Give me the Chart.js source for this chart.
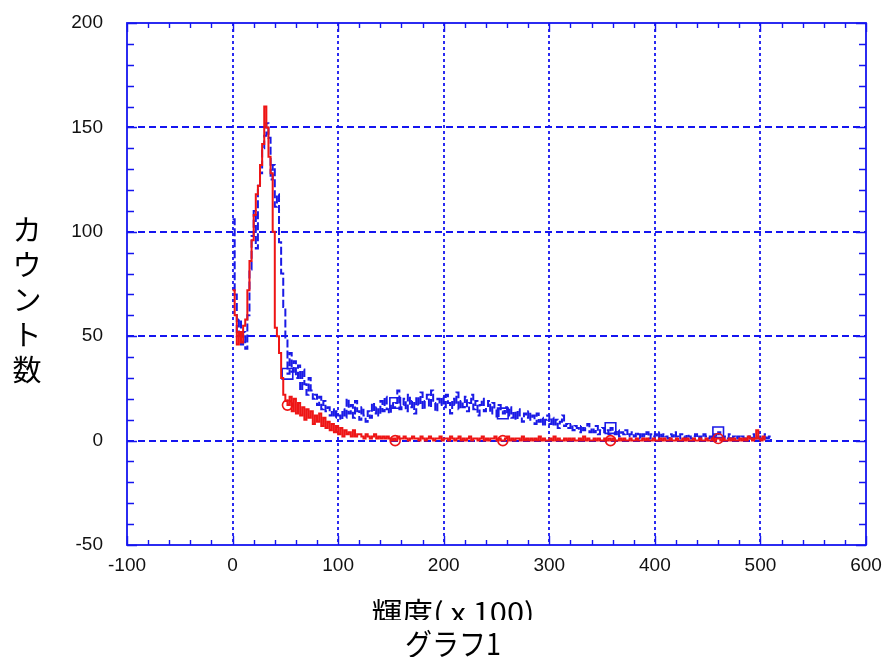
<!DOCTYPE html>
<html>
<head>
<meta charset="utf-8">
<script src="https://cdn.jsdelivr.net/npm/chart.js@4.4.0/dist/chart.umd.min.js"></script>
<style>
  html, body { margin: 0; padding: 0; background: #fff; }
</style>
</head>
<body>
<canvas id="chartCanvas" width="888" height="657"></canvas>
<script>
// histogram bins, 2 units wide, starting at 0
const binStart = 0;
const binWidth = 2;

const blueCounts = [
  106, 70, 50, 58, 46, 52, 44, 60, 82, 98,
  110, 92, 122, 128, 140, 146, 152, 145, 125, 132,
  112, 118, 95, 80, 64, 48, 32, 42, 33, 38,
  30, 36, 24, 34, 27, 22, 30, 24, 20, 22,
  17, 21, 15, 19, 14, 16, 12, 15, 11, 14,
  12, 10, 15, 11, 20, 13, 17, 11, 19, 14,
  10, 16, 12, 9, 14, 11, 18, 13, 16, 12,
  19, 14, 21, 15, 13, 18, 16, 18, 24, 15,
  17, 20, 14, 22, 16, 19, 13, 21, 17, 23,
  15, 19, 22, 16, 24, 18, 14, 20, 17, 21,
  16, 22, 18, 13, 20, 17, 23, 15, 19, 16,
  21, 14, 18, 22, 15, 19, 12, 17, 20, 14,
  16, 19, 13, 18, 15, 11, 17, 14, 13, 16,
  12, 16, 11, 14, 10, 15, 12, 9, 13, 11,
  14, 10, 12, 8, 13, 9, 11, 7, 10, 12,
  8, 11, 7, 10, 6, 9, 12, 7, 8, 6,
  8, 5, 7, 6, 4, 7, 5, 6, 8, 4,
  6, 4, 7, 3, 5, 6, 4, 5, 3, 6,
  4, 3, 5, 2, 4, 3, 5, 2, 3, 4,
  2, 4, 3, 1, 3, 2, 4, 1, 3, 2,
  3, 1, 4, 2, 3, 2, 1, 3, 2, 4,
  2, 1, 3, 2, 1, 3, 2, 1, 2, 3,
  1, 2, 1, 3, 2, 1, 2, 1, 3, 2,
  4, 2, 1, 2, 1, 3, 1, 2, 1, 2,
  1, 2, 1, 1, 2, 1, 3, 1, 2, 1,
  2, 1, 3, 1, 2, 0
];

const redCounts = [
  72, 60, 46, 52, 47, 55, 58, 72, 86, 96,
  108, 118, 122, 132, 142, 160, 150, 136, 128, 100,
  54, 50, 42, 30, 22, 19, 17, 21, 14, 20,
  13, 18, 12, 16, 10, 15, 11, 14, 8, 12,
  9, 13, 7, 11, 6, 9, 5, 8, 4, 7,
  3, 6, 2, 5, 3, 4, 2, 5, 2, 3,
  3, 2, 1, 3, 2, 1, 2, 3, 1, 2,
  1, 2, 1, 2, 1, 0, 1, 0, 2, 1,
  1, 2, 1, 0, 1, 2, 1, 1, 0, 2,
  1, 0, 1, 2, 1, 0, 1, 1, 2, 0,
  1, 1, 0, 2, 1, 0, 1, 2, 0, 1,
  0, 1, 2, 0, 1, 1, 0, 1, 2, 0,
  1, 0, 1, 1, 2, 0, 1, 0, 0, 1,
  2, 0, 1, 0, 1, 1, 0, 2, 0, 1,
  0, 1, 0, 1, 0, 2, 0, 1, 0, 0,
  1, 0, 2, 0, 1, 0, 0, 1, 0, 1,
  0, 1, 0, 0, 1, 0, 2, 0, 1, 0,
  0, 1, 0, 1, 0, 0, 1, 0, 1, 0,
  1, 0, 0, 1, 0, 1, 0, 0, 1, 0,
  0, 1, 0, 0, 1, 0, 1, 0, 0, 1,
  0, 0, 1, 0, 1, 0, 0, 1, 0, 0,
  1, 0, 0, 1, 0, 1, 0, 0, 1, 0,
  0, 1, 0, 0, 1, 0, 0, 1, 0, 1,
  1, 0, 1, 0, 0, 1, 0, 1, 0, 0,
  1, 0, 1, 0, 2, 1, 0, 1, 5, 1,
  0, 2, 0
];

// bins that carry a marker symbol
const markerX = [52, 154, 256, 358, 460];

const xTicks = [-100, 0, 100, 200, 300, 400, 500, 600];
const yTicks = [-50, 0, 50, 100, 150, 200];

const xTitle = "輝度( x 100)";
const yTitle = "カウント数";
const caption = "グラフ1";

const axisBlue = "#1515f0";
const redColor = "#ee1515";
const blueColor = "#1a1ae6";

function toPoints(counts) {
  return counts.map((v, i) => ({ x: binStart + i * binWidth, y: v }));
}

function markerRadius(r) {
  return ctx => (ctx.raw && markerX.includes(ctx.raw.x) ? r : 0);
}

// grid, frame with inward ticks, and titles
const framePlugin = {
  id: "frame",
  beforeDatasetsDraw(chart) {
    const { ctx, chartArea: a, scales: { x, y } } = chart;
    ctx.save();
    ctx.strokeStyle = axisBlue;
    ctx.lineWidth = 1.8;
    ctx.setLineDash([3, 3]);
    xTicks.forEach(v => {
      if (v <= x.min || v >= x.max) return;
      const px = Math.round(x.getPixelForValue(v));
      ctx.beginPath();
      ctx.moveTo(px, a.top);
      ctx.lineTo(px, a.bottom);
      ctx.stroke();
    });
    ctx.setLineDash([7, 4]);
    yTicks.forEach(v => {
      if (v <= y.min || v >= y.max) return;
      const py = Math.round(y.getPixelForValue(v));
      ctx.beginPath();
      ctx.moveTo(a.left, py);
      ctx.lineTo(a.right, py);
      ctx.stroke();
    });
    ctx.restore();
  },
  afterDatasetsDraw(chart) {
    const { ctx, chartArea: a, scales: { x, y } } = chart;
    ctx.save();
    ctx.strokeStyle = axisBlue;
    ctx.lineWidth = 1.8;
    ctx.strokeRect(a.left, a.top, a.right - a.left, a.bottom - a.top);
    ctx.lineWidth = 1.4;
    ctx.beginPath();
    for (let v = x.min; v <= x.max; v += 20) {
      const px = Math.round(x.getPixelForValue(v)) + 0.5;
      const len = v % 100 === 0 ? 9 : 5;
      ctx.moveTo(px, a.bottom);
      ctx.lineTo(px, a.bottom - len);
      ctx.moveTo(px, a.top);
      ctx.lineTo(px, a.top + len);
    }
    for (let v = y.min; v <= y.max; v += 10) {
      const py = Math.round(y.getPixelForValue(v)) + 0.5;
      const len = v % 50 === 0 ? 10 : 7;
      ctx.moveTo(a.left, py);
      ctx.lineTo(a.left + len, py);
      ctx.moveTo(a.right, py);
      ctx.lineTo(a.right - len, py);
    }
    ctx.stroke();
    ctx.restore();
  },
  afterDraw(chart) {
    const { ctx } = chart;
    const midX = 453;
    ctx.save();
    ctx.fillStyle = "#000";
    ctx.textAlign = "center";
    ctx.textBaseline = "middle";
    ctx.font = '29px "Noto Sans CJK JP"';
    const chars = Array.from(yTitle);
    chars.forEach((c, i) => ctx.fillText(c, 27, 230 + i * 35));

    // x title: bottom part hidden behind the caption
    ctx.textBaseline = "alphabetic";
    ctx.save();
    ctx.beginPath();
    ctx.rect(0, 590, 888, 30);
    ctx.clip();
    ctx.font = '28px "Noto Sans CJK JP"';
    let w = ctx.measureText(xTitle).width;
    ctx.translate(midX, 623);
    ctx.scale(163 / w, 1);
    ctx.fillText(xTitle, 0, 0);
    ctx.restore();

    ctx.font = '30px "Noto Sans CJK JP"';
    w = ctx.measureText(caption).width;
    ctx.translate(midX, 655);
    ctx.scale(96 / w, 1);
    ctx.fillText(caption, 0, 0);
    ctx.restore();
  }
};

const tickFont = { family: '"Liberation Sans", Arial, sans-serif', size: 19 };

new Chart(document.getElementById("chartCanvas").getContext("2d"), {
  type: "line",
  data: {
    datasets: [
      {
        label: "red",
        data: toPoints(redCounts),
        stepped: true,
        borderColor: redColor,
        borderWidth: 2,
        fill: false,
        pointStyle: "circle",
        pointRadius: markerRadius(5),
        pointHoverRadius: 0,
        pointBorderColor: redColor,
        pointBackgroundColor: "rgba(0,0,0,0)",
        pointBorderWidth: 1.6
      },
      {
        label: "blue",
        data: toPoints(blueCounts),
        stepped: true,
        borderColor: blueColor,
        borderWidth: 2,
        borderDash: [8, 3],
        fill: false,
        pointStyle: "rect",
        pointRadius: markerRadius(7.5),
        pointHoverRadius: 0,
        pointBorderColor: blueColor,
        pointBackgroundColor: "rgba(0,0,0,0)",
        pointBorderWidth: 1.6
      }
    ]
  },
  options: {
    responsive: false,
    animation: false,
    layout: { padding: { top: 23, right: 22, left: 0, bottom: 0 } },
    plugins: {
      legend: { display: false },
      tooltip: { enabled: false }
    },
    scales: {
      x: {
        type: "linear",
        min: -100,
        max: 600,
        afterBuildTicks: s => { s.ticks = xTicks.map(v => ({ value: v })); },
        afterFit: s => {
          s.height = 112;
          s.paddingLeft = 0;
          s.paddingRight = 0;
        },
        ticks: { font: tickFont, color: "#111", padding: 9, maxRotation: 0, autoSkip: false },
        grid: { display: false, drawTicks: false },
        border: { display: false }
      },
      y: {
        type: "linear",
        min: -50,
        max: 200,
        afterBuildTicks: s => { s.ticks = yTicks.map(v => ({ value: v })); },
        afterFit: s => {
          s.width = 127;
          s.paddingTop = 0;
          s.paddingBottom = 0;
        },
        ticks: { font: tickFont, color: "#111", padding: 24 },
        grid: { display: false, drawTicks: false },
        border: { display: false }
      }
    }
  },
  plugins: [framePlugin]
});
</script>
</body>
</html>
